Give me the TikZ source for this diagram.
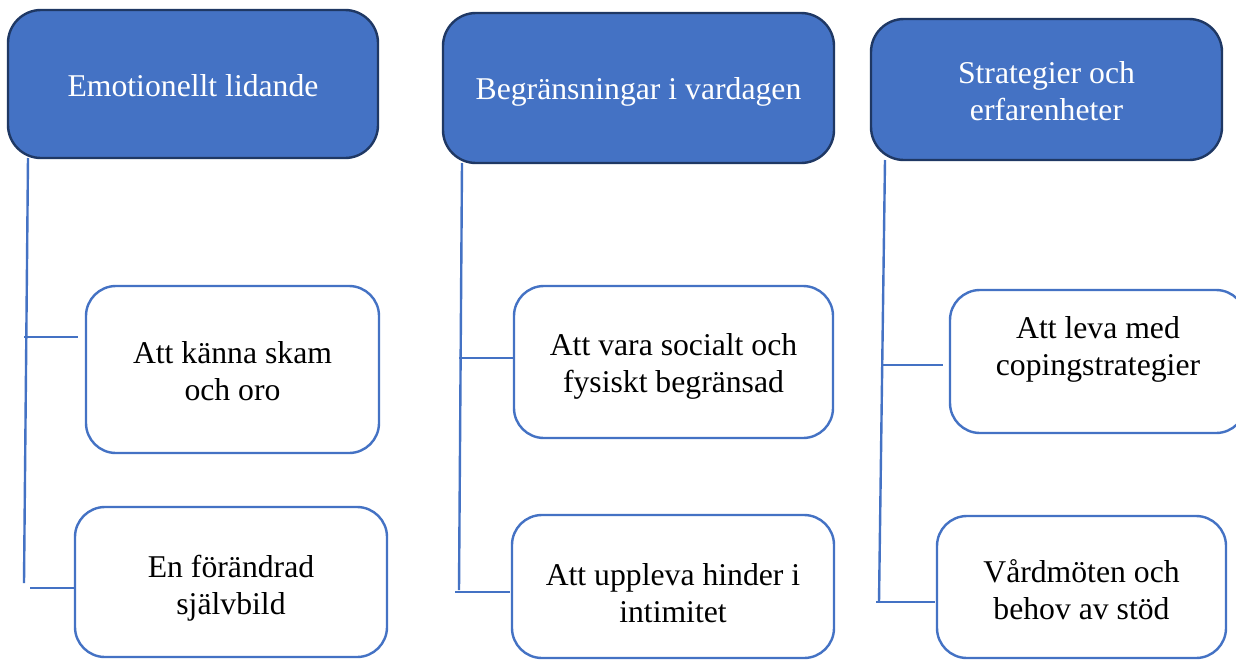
\documentclass[tikz,border=0pt]{standalone}
\usepackage{fontspec}
\setmainfont{Liberation Serif}
\definecolor{hdrfill}{HTML}{4472C4}
\definecolor{hdrline}{HTML}{1F3864}
\definecolor{blueline}{HTML}{4472C4}
\tikzset{
  hdr/.style={draw=hdrline, line width=2.4pt, fill=hdrfill, rounded corners=33pt,
    inner sep=0pt},
  child/.style={draw=blueline, line width=2.4pt, fill=white, rounded corners=30pt,
    inner sep=0pt},
  txt/.style={text=black, align=center, inner sep=0pt,
    font=\fontsize{31.7}{37}\selectfont},
  htxt/.style={txt, text=white},
  conn/.style={draw=blueline, line width=2.4pt}
}
\begin{document}
\begin{tikzpicture}[x=1pt,y=-1pt]
\useasboundingbox[fill=white] (0,0) rectangle (1236,659);
% headers
\node[hdr, minimum width=370pt, minimum height=148pt] (h1) at (193,84) {};
\node[htxt] (h1t) at ([yshift=-2pt]h1.center) {Emotionellt lidande};
\node[hdr, minimum width=391pt, minimum height=150pt] (h2) at (638.5,88) {};
\node[htxt] (h2t) at ([yshift=-4pt]h2.center) {Begränsningar i vardagen};
\node[hdr, minimum width=351pt, minimum height=141pt] (h3) at (1046.5,89.5) {};
\node[htxt] (h3t) at ([yshift=-1.5pt]h3.center) {Strategier och\\erfarenheter};
% children
\node[child, minimum width=293pt, minimum height=167pt] (c11) at (232.5,369.5) {};
\node[txt] (c11t) at ([yshift=-2pt]c11.center) {Att känna skam\\och oro};
\node[child, minimum width=312pt, minimum height=150pt] (c12) at (231,582) {};
\node[txt] (c12t) at ([yshift=-6pt]c12.center) {En förändrad\\självbild};
\node[child, minimum width=319pt, minimum height=152pt] (c21) at (673.5,362) {};
\node[txt] (c21t) at ([yshift=-4pt]c21.center) {Att vara socialt och\\fysiskt begränsad};
\node[child, minimum width=322pt, minimum height=143pt] (c22) at (673,586.5) {};
\node[txt] (c22t) at ([yshift=-7pt]c22.center) {Att uppleva hinder i\\intimitet};
\node[child, minimum width=296pt, minimum height=143pt] (c31) at (1098,361.5) {};
\node[txt] (c31t) at ([yshift=12.5pt]c31.center) {Att leva med\\copingstrategier};
\node[child, minimum width=289pt, minimum height=142pt] (c32) at (1081.5,587) {};
\node[txt] (c32t) at ([yshift=-3pt]c32.center) {Vårdmöten och\\behov av stöd};
% connector coordinates
\coordinate (v1t) at (28,158);
\coordinate (v1b) at (24,583);
\coordinate (b11s) at (24,337);
\coordinate (b11e) at (78,337);
\coordinate (b12s) at (30,588);
\coordinate (b12e) at (75,588);
\coordinate (v2t) at (462,163);
\coordinate (v2b) at (459,590);
\coordinate (b21s) at (459,358);
\coordinate (b21e) at (514,358);
\coordinate (b22s) at (455,592);
\coordinate (b22e) at (510,592);
\coordinate (v3t) at (885,160);
\coordinate (v3b) at (879,602);
\coordinate (b31s) at (883,365);
\coordinate (b31e) at (943,365);
\coordinate (b32s) at (876,602);
\coordinate (b32e) at (935,602);
% connectors
\draw[conn] (v1t) -- (v1b);
\draw[conn] (b11s) -- (b11e);
\draw[conn] (b12s) -- (b12e);
\draw[conn] (v2t) -- (v2b);
\draw[conn] (b21s) -- (b21e);
\draw[conn] (b22s) -- (b22e);
\draw[conn] (v3t) -- (v3b);
\draw[conn] (b31s) -- (b31e);
\draw[conn] (b32s) -- (b32e);
\end{tikzpicture}
\end{document}
